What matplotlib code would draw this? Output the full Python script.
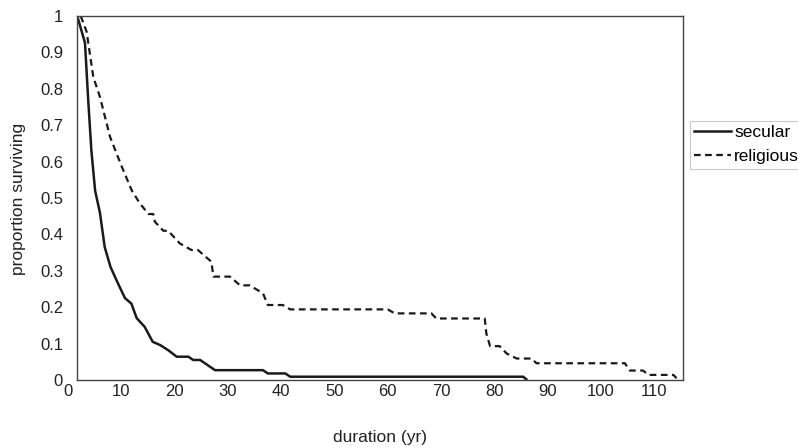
import numpy as np
import matplotlib.pyplot as plt

plt.rcParams['font.family'] = ['Liberation Sans', 'DejaVu Sans']

# secular survival curve (duration in yr, proportion surviving)
sec_x = [1.75, 3.2, 3.8, 4.4, 5.1, 6.0, 6.9, 8.0, 9.4, 10.7, 11.9, 12.9, 14.4,
         15.9, 17.3, 18.8, 20.4, 22.6, 23.5, 24.8, 27.6, 36.6, 37.5, 40.8,
         41.7, 85.4, 86.0]
sec_y = [1.0, 0.926, 0.77, 0.63, 0.52, 0.46, 0.365, 0.31, 0.265, 0.225, 0.21,
         0.17, 0.146, 0.105, 0.096, 0.082, 0.064, 0.064, 0.055, 0.055, 0.027,
         0.027, 0.018, 0.018, 0.009, 0.009, 0.002]

# religious survival curve
rel_x = [2.4, 3.5, 4.75, 6.0, 7.9, 10.1, 12.0, 13.5, 15.1, 16.0, 16.3, 17.9,
         18.8, 21.0, 23.2, 24.4, 26.9, 27.3, 30.4, 32.3, 34.1, 36.6, 37.5,
         40.3, 41.7, 60.0, 61.3, 68.2, 69.1, 78.2, 78.5, 79.2, 81.0, 82.3,
         84.2, 87.0, 87.9, 104.5, 105.4, 107.9, 108.9, 113.6, 114.2]
rel_y = [1.0, 0.957, 0.833, 0.778, 0.668, 0.586, 0.52, 0.485, 0.456, 0.456,
         0.435, 0.41, 0.41, 0.375, 0.357, 0.357, 0.325, 0.284, 0.284, 0.26,
         0.26, 0.238, 0.206, 0.206, 0.194, 0.194, 0.183, 0.183, 0.169, 0.169,
         0.128, 0.093, 0.093, 0.073, 0.059, 0.059, 0.046, 0.046, 0.026, 0.026,
         0.014, 0.014, 0.005]

x_ticks = [10, 20, 30, 40, 50, 60, 70, 80, 90, 100, 110]
y_ticks = [0, 0.1, 0.2, 0.3, 0.4, 0.5, 0.6, 0.7, 0.8, 0.9, 1]
y_labels = ['0', '0.1', '0.2', '0.3', '0.4', '0.5', '0.6', '0.7', '0.8', '0.9', '1']

fig = plt.figure(figsize=(7.98, 4.48), dpi=100)
ax = fig.add_axes([77/798, 68/448, (683-77)/798, (380-16)/448])

ax.plot(sec_x, sec_y, color='#1a1a1a', lw=1.8, label='secular')
ax.plot(rel_x, rel_y, color='#1a1a1a', lw=1.6, ls=(0, (3, 2)), label='religious')

ax.set_xlim(1.7, 115.4)
ax.set_ylim(0, 1)
ax.set_xticks(x_ticks)
ax.set_yticks(y_ticks)
ax.set_yticklabels(y_labels)
ax.tick_params(length=0, labelsize=12, colors='#222222')
ax.tick_params(axis='y', pad=10)
ax.tick_params(axis='x', pad=3)
ax.text(0, -0.012, '0', ha='center', va='top', fontsize=12, color='#222222',
        transform=ax.get_xaxis_transform(), clip_on=False)
for sp in ax.spines.values():
    sp.set_color('#444444')
    sp.set_linewidth(1.0)

fig.text(18.5/798, 1 - 199/448, 'proportion surviving', rotation=90,
         ha='center', va='center', fontsize=12.5, color='#222222')
fig.text(380/798, 1 - 437/448, 'duration (yr)', ha='center', va='center',
         fontsize=12.5, color='#222222')

leg = fig.legend(loc='upper left', bbox_to_anchor=(690/798, 1 - 121/448),
                 frameon=True, fancybox=False, fontsize=12.5, handlelength=2.1,
                 handletextpad=0.2, borderpad=0.25, labelspacing=0.5,
                 borderaxespad=0)
leg.get_frame().set_edgecolor('#bbbbbb')
leg.get_frame().set_linewidth(0.8)

plt.savefig('out.png', dpi=100)
